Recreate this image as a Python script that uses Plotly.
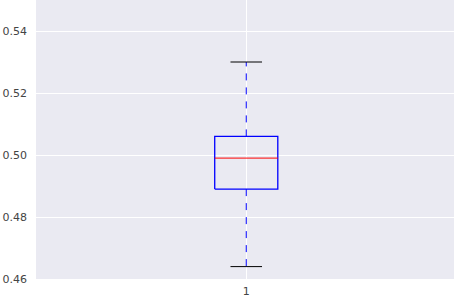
import plotly.graph_objects as go

categories = [1]
lower_whisker = [0.464]
q1 = [0.489]
median = [0.499]
q3 = [0.506]
upper_whisker = [0.530]
y_ticks = [0.46, 0.48, 0.50, 0.52, 0.54]
y_tick_labels = ["0.46", "0.48", "0.50", "0.52", "0.54"]

BOX_W = 0.15
CAP_W = BOX_W / 2

fig = go.Figure()
for i, c in enumerate(categories):
    lo, a, m, b, hi = lower_whisker[i], q1[i], median[i], q3[i], upper_whisker[i]
    # whiskers
    for y0, y1 in [(a, lo), (b, hi)]:
        fig.add_trace(go.Scatter(x=[c, c], y=[y0, y1], mode="lines",
                                 line=dict(color="#0000FF", width=1, dash="7px,7px"),
                                 hoverinfo="skip", showlegend=False))
    # caps
    for yv in [lo, hi]:
        fig.add_trace(go.Scatter(x=[c - CAP_W / 2, c + CAP_W / 2], y=[yv, yv], mode="lines",
                                 line=dict(color="#000000", width=1),
                                 hoverinfo="skip", showlegend=False))
    # box
    fig.add_trace(go.Scatter(x=[c - BOX_W / 2, c + BOX_W / 2, c + BOX_W / 2, c - BOX_W / 2, c - BOX_W / 2],
                             y=[a, a, b, b, a], mode="lines",
                             line=dict(color="#0000FF", width=1.3),
                             hoverinfo="skip", showlegend=False))
    # median
    fig.add_trace(go.Scatter(x=[c - BOX_W / 2, c + BOX_W / 2], y=[m, m], mode="lines",
                             line=dict(color="#FF0000", width=1),
                             hoverinfo="skip", showlegend=False))

fig.update_layout(
    width=454, height=298,
    margin=dict(l=36, r=0, t=0, b=19, pad=0),
    plot_bgcolor="#EAEAF2", paper_bgcolor="#FFFFFF",
    font=dict(family="DejaVu Sans", size=11, color="#444444"),
    showlegend=False,
)
fig.update_xaxes(range=[0.5, 1.494], tickvals=categories, ticktext=[str(c) for c in categories],
                 showgrid=True, gridcolor="#FFFFFF", gridwidth=1, zeroline=False,
                 showline=False, ticks="", ticklabelstandoff=4, automargin=False, fixedrange=True)
fig.update_yaxes(range=[0.46, 0.55], tickvals=y_ticks, ticktext=y_tick_labels,
                 showgrid=True, gridcolor="#FFFFFF", gridwidth=1, zeroline=False,
                 showline=False, ticks="", ticklabelstandoff=8, automargin=False, fixedrange=True)

fig.write_html("out.html", config={"displayModeBar": False},
               post_script="document.body.style.margin='0';document.body.style.overflow='hidden';")
